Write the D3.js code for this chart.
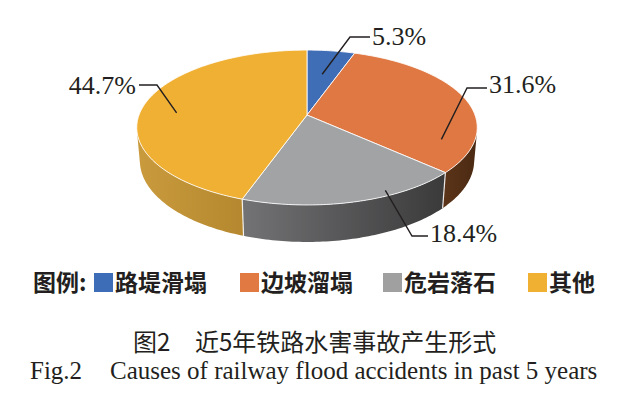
<!DOCTYPE html>
<html>
<head>
<meta charset="utf-8">
<script src="https://cdn.jsdelivr.net/npm/d3@7/dist/d3.min.js"></script>
<style>
  html, body { margin: 0; padding: 0; background: #ffffff; }
  svg { display: block; }
</style>
</head>
<body>
<svg id="chart" width="626" height="396"></svg>
<script>
// ---------- data ----------
const categories = ["路堤滑塌", "边坡溜塌", "危岩落石", "其他"];
const values = [5.3, 31.6, 18.4, 44.7];
const legendTitle = "图例:";
const captionCN = ["图2", "近5年铁路水害事故产生形式"];
const captionEN = ["Fig.2", "Causes of railway flood accidents in past 5 years"];

// ---------- styles ----------
const topColors = ["#3f6db6", "#e07843", "#a2a3a5", "#f0b034"];
const legendColors = ["#3d6db6", "#e07a42", "#a0a0a1", "#f0b032"];
const sideLight = ["#2c4e86", "#5c3519", "#737375", "#ca9b3d"];
const sideDark = ["#203a66", "#4a2912", "#3a3a3b", "#b5882f"];
const ink = "#231f20";

// label layout: anchor on top face (angle in degrees, radius fraction), elbow, end, text pos
const labelLayout = [
  { a: 9.5, r: 0.6, elbow: [350, 37], end: [370, 37], tx: 372, ty: 45, anchor: "start" },
  { a: 112, r: 0.82, elbow: [467, 88], end: [487, 88], tx: 489, ty: 93, anchor: "start" },
  { a: 155, r: 0.95, elbow: [412, 236], end: [428, 236], tx: 430, ty: 242, anchor: "start" },
  { a: 272, r: 0.78, elbow: [157, 85], end: [139, 85], tx: 136, ty: 94, anchor: "end" }
];

// ---------- 3D projection ----------
const cx = 307, cy = 115, R = 168;
const sPhi = 0.449, cPhi = 0.893, f = 5.53, h = 0.222;
function proj(theta, r, yw) {
  const X = r * Math.sin(theta), Z = -r * Math.cos(theta);
  const vy = Z * sPhi - yw * cPhi;
  const zc = Z * cPhi + yw * sPhi;
  const s = f / (f - zc);
  return [cx + R * X * s, cy + R * vy * s];
}
// front-facing wall range
const lim = Math.acos(-1 / (f * cPhi));
const thMin = lim, thMax = 2 * Math.PI - lim;

const svg = d3.select("#chart");
const defs = svg.append("defs");
const pie = d3.pie().sort(null).value(d => d)(values);
const line = d3.line();

function rimPoints(a0, a1, r, yw) {
  const n = Math.max(2, Math.ceil(Math.abs(a1 - a0) / (Math.PI / 180)));
  return d3.range(n + 1).map(i => proj(a0 + (a1 - a0) * i / n, r, yw));
}

// walls
const gWall = svg.append("g");
pie.forEach((d, i) => {
  const lo = Math.max(d.startAngle, thMin), hi = Math.min(d.endAngle, thMax);
  if (lo >= hi) return;
  const pts = rimPoints(lo, hi, 1, 0).concat(rimPoints(hi, lo, 1, -h));
  const xl = d3.min(pts, p => p[0]), xr = d3.max(pts, p => p[0]);
  const gid = "wall" + i;
  const grad = defs.append("linearGradient").attr("id", gid)
    .attr("gradientUnits", "userSpaceOnUse")
    .attr("x1", xl).attr("x2", xr).attr("y1", 0).attr("y2", 0);
  grad.append("stop").attr("offset", 0).attr("stop-color", sideLight[i]);
  grad.append("stop").attr("offset", 1).attr("stop-color", sideDark[i]);
  gWall.append("path").attr("d", line(pts) + "Z").attr("fill", `url(#${gid})`);
});
// vertical separators on walls
pie.forEach(d => {
  const a = d.startAngle;
  if (a > thMin && a < thMax) {
    const p0 = proj(a, 1, 0), p1 = proj(a, 1, -h);
    gWall.append("line").attr("x1", p0[0]).attr("y1", p0[1]).attr("x2", p1[0]).attr("y2", p1[1])
      .attr("stroke", "#ffffff").attr("stroke-width", 1.2).attr("stroke-opacity", 0.85);
  }
});

// top faces
const gTop = svg.append("g");
pie.forEach((d, i) => {
  const pts = [proj(0, 0, 0)].concat(rimPoints(d.startAngle, d.endAngle, 1, 0));
  gTop.append("path").attr("d", line(pts) + "Z")
    .attr("fill", topColors[i])
    .attr("stroke", "#ffffff").attr("stroke-width", 1).attr("stroke-opacity", 0.85)
    .attr("stroke-linejoin", "round");
});

// labels
const gLab = svg.append("g");
pie.forEach((d, i) => {
  const L = labelLayout[i];
  const a = proj(L.a * Math.PI / 180, L.r, 0);
  gLab.append("path").attr("d", line([a, L.elbow, L.end]))
    .attr("fill", "none").attr("stroke", ink).attr("stroke-width", 1.4);
  gLab.append("text").attr("x", L.tx).attr("y", L.ty)
    .attr("text-anchor", L.anchor)
    .attr("font-family", "'Liberation Serif', 'Times New Roman', serif")
    .attr("font-size", 26).attr("fill", ink)
    .text(values[i].toFixed(1) + "%");
});

// legend
const gLeg = svg.append("g")
  .attr("font-family", "'Noto Sans CJK SC', sans-serif")
  .attr("font-size", 23).attr("font-weight", 700).attr("fill", ink);
gLeg.append("text").attr("x", 33).attr("y", 291).text(legendTitle);
const legX = [94, 240, 383, 528];
categories.forEach((c, i) => {
  gLeg.append("rect").attr("x", legX[i]).attr("y", 273).attr("width", 19).attr("height", 19)
    .attr("fill", legendColors[i]);
  gLeg.append("text").attr("x", legX[i] + 21).attr("y", 291).text(c);
});

// captions
const cn = svg.append("text").attr("y", 351)
  .attr("font-family", "'Noto Sans CJK SC', sans-serif")
  .attr("font-size", 24).attr("font-weight", 400).attr("fill", ink);
cn.append("tspan").attr("x", 133).text(captionCN[0]);
cn.append("tspan").attr("x", 195).text(captionCN[1]);

const en = svg.append("text").attr("y", 379)
  .attr("font-family", "'Liberation Serif', 'Times New Roman', serif")
  .attr("font-size", 25).attr("fill", ink);
en.append("tspan").attr("x", 30).text(captionEN[0]);
en.append("tspan").attr("x", 110).text(captionEN[1]);
</script>
</body>
</html>
